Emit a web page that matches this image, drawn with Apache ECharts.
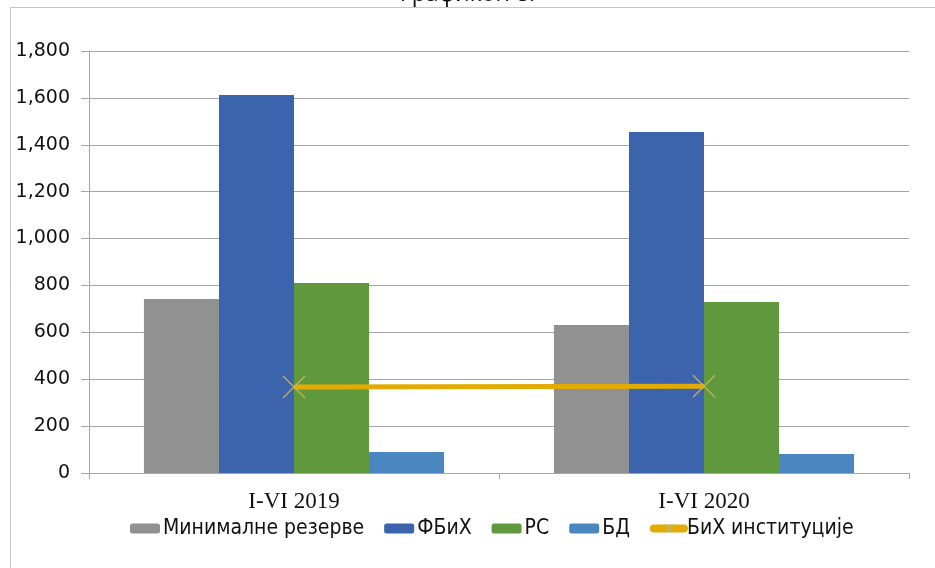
<!DOCTYPE html>
<html><head><meta charset="utf-8">
<script src="https://cdn.jsdelivr.net/npm/echarts@6/dist/echarts.min.js"></script>
<style>html,body{margin:0;padding:0;background:#fff}#c{width:935px;height:568px}</style>
</head><body><div id="c"></div>
<script>
const categories = ['I-VI 2019', 'I-VI 2020'];
const minRezerve = [742, 631];
const fbih = [1612, 1455];
const rs = [810, 729];
const bd = [90, 81];
const bihInst = [367, 370];
const yTicks = [0, 200, 400, 600, 800, 1000, 1200, 1400, 1600, 1800];
const titleText = 'Графикон 8.';

const chart = echarts.init(document.getElementById('c'));
const sans = 'DejaVu Sans';
const barCommon = { type: 'bar', barGap: '0%', barCategoryGap: '26.8%' };
const names = ['Минималне резерве', 'ФБиХ', 'РС', 'БД', 'БиХ институције'];
chart.setOption({
  animation: false,
  title: { text: titleText, left: 'center', top: -22, textStyle: { fontFamily: 'Open Sans', fontSize: 23, fontWeight: 'normal', color: '#111' } },
  graphic: [
    { type: 'line', shape: { x1: 10, y1: 7.5, x2: 935, y2: 7.5 }, style: { stroke: '#c6c6c6', lineWidth: 1 } },
    { type: 'line', shape: { x1: 10.5, y1: 7, x2: 10.5, y2: 568 }, style: { stroke: '#c6c6c6', lineWidth: 1 } }
  ],
  grid: { left: 89, right: 26, top: 51, bottom: 95 },
  legend: {
    bottom: 24, left: 125, itemWidth: 30, itemHeight: 10, itemGap: 20,
    textStyle: { fontFamily: 'DejaVu Sans Condensed', fontSize: 21, color: '#111', padding: [0, 0, 0, -2] },
    data: names.slice(0, 4).concat([{ name: names[4], lineStyle: { width: 8, cap: 'round' } }])
  },
  xAxis: {
    type: 'category', data: categories,
    axisLine: { lineStyle: { color: '#a6a6a6' } },
    axisTick: { show: true, length: 6, lineStyle: { color: '#a6a6a6' } },
    axisLabel: { fontFamily: 'Liberation Serif', fontSize: 23, color: '#111', margin: 17 }
  },
  yAxis: {
    type: 'value', min: 0, max: 1800, interval: 200,
    axisLine: { show: true, lineStyle: { color: '#a6a6a6' } },
    axisTick: { show: true, length: 8, lineStyle: { color: '#a6a6a6' } },
    splitLine: { lineStyle: { color: '#a6a6a6' } },
    axisLabel: { fontFamily: sans, fontSize: 19, color: '#111', margin: 19,
      formatter: v => v.toLocaleString('en-US') }
  },
  series: [
    Object.assign({ name: names[0], data: minRezerve, itemStyle: { color: '#919191' } }, barCommon),
    Object.assign({ name: names[1], data: fbih, itemStyle: { color: '#3b64ad' } }, barCommon),
    Object.assign({ name: names[2], data: rs, itemStyle: { color: '#60993d' } }, barCommon),
    Object.assign({ name: names[3], data: bd, itemStyle: { color: '#4a87c1' } }, barCommon),
    { name: names[4], type: 'line', data: bihInst,
      symbol: 'path://M0,0L10,10M10,0L0,10', symbolSize: 22,
      lineStyle: { color: '#e3ab00', width: 5 },
      itemStyle: { color: 'rgba(0,0,0,0)', borderColor: '#c4b25e', borderWidth: 1.2 } }
  ]
});
</script></body></html>
